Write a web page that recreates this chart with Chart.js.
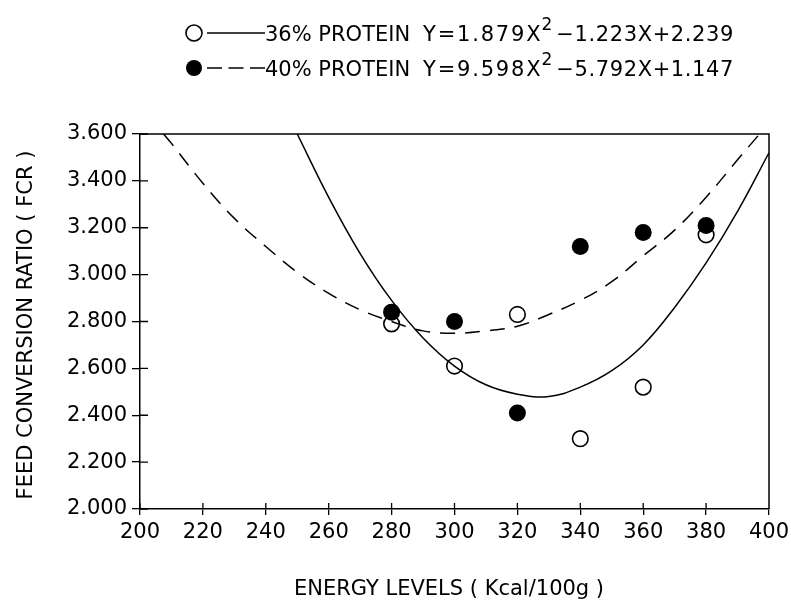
<!DOCTYPE html>
<html>
<head>
<meta charset="utf-8">
<script src="https://cdn.jsdelivr.net/npm/chart.js@4"></script>
<style>
  html, body { margin: 0; padding: 0; background: #fff; }
  canvas { display: block; }
</style>
</head>
<body>
<canvas id="c" width="791" height="603"></canvas>
<script>
// ---- data ----
const energy = [280, 300, 320, 340, 360, 380];
const fcr36 = [2.79, 2.61, 2.83, 2.30, 2.52, 3.17];
const fcr40 = [2.84, 2.80, 2.41, 3.12, 3.18, 3.21];

// fitted curves
const fit36X = [250, 260, 270, 280, 290, 300, 310, 320, 330, 340, 350, 360, 370, 380, 390, 400];
const fit36Y = [3.60, 3.33, 3.09, 2.89, 2.73, 2.61, 2.53, 2.49, 2.48, 2.52, 2.59, 2.70, 2.86, 3.05, 3.27, 3.52];
const fit40X = [207.5, 210, 220, 230, 240, 250, 260, 270, 280, 290, 300, 310, 320, 330, 340, 350, 360, 370, 380, 390, 397];
const fit40Y = [3.60, 3.56, 3.39, 3.24, 3.12, 3.01, 2.92, 2.85, 2.80, 2.76, 2.75, 2.76, 2.78, 2.83, 2.89, 2.97, 3.08, 3.19, 3.33, 3.49, 3.60];

const xTicks = [200, 220, 240, 260, 280, 300, 320, 340, 360, 380, 400];
const yTicks = [2.0, 2.2, 2.4, 2.6, 2.8, 3.0, 3.2, 3.4, 3.6];

const legendNames = ['36% PROTEIN', '40% PROTEIN'];
const legendEqA = ['Y=1.879X', 'Y=9.598X'];
const legendEqB = ['\u22121.223X+2.239', '\u22125.792X+1.147'];

const xTitle = 'ENERGY LEVELS ( Kcal/100g )';
const yTitle = 'FEED CONVERSION RATIO ( FCR )';

const FONT = '"DejaVu Sans", sans-serif';

const pts = (xs, ys) => xs.map((x, i) => ({ x: x, y: ys[i] }));

// draw text char by char with extra spacing; returns end x
function spaced(ctx, text, x, y, sp) {
  let cx = x;
  for (const ch of text) {
    ctx.fillText(ch, cx, y);
    cx += ctx.measureText(ch).width + sp;
  }
  return cx - sp;
}

const decor = {
  id: 'decor',
  afterDraw(chart) {
    const ctx = chart.ctx;
    const a = chart.chartArea;
    const xs = chart.scales.x, ys = chart.scales.y;
    ctx.save();
    ctx.strokeStyle = '#000';
    ctx.lineWidth = 1.5;
    // frame top & right
    ctx.beginPath();
    ctx.moveTo(a.left, a.top);
    ctx.lineTo(a.right, a.top);
    ctx.lineTo(a.right, a.bottom);
    ctx.stroke();
    // inner tick marks
    ctx.lineWidth = 1.3;
    ctx.beginPath();
    xTicks.forEach(v => {
      if (v === 400) return;
      const px = xs.getPixelForValue(v);
      ctx.moveTo(px, a.bottom);
      ctx.lineTo(px, a.bottom - 6);
    });
    yTicks.forEach(v => {
      const py = ys.getPixelForValue(v);
      ctx.moveTo(a.left, py);
      ctx.lineTo(a.left + 8, py);
    });
    ctx.stroke();

    // axis titles
    ctx.fillStyle = '#000';
    ctx.font = '21px ' + FONT;
    ctx.textAlign = 'center';
    ctx.textBaseline = 'alphabetic';
    ctx.fillText(xTitle, 449, 595);
    ctx.save();
    ctx.translate(32, 325);
    ctx.rotate(-Math.PI / 2);
    ctx.fillText(yTitle, 0, 0);
    ctx.restore();

    // legend
    const rows = [33, 68];
    rows.forEach((cy, i) => {
      ctx.beginPath();
      ctx.arc(194, cy, 8, 0, Math.PI * 2);
      if (i === 0) {
        ctx.lineWidth = 1.6;
        ctx.stroke();
      } else {
        ctx.fill();
      }
      ctx.lineWidth = 1.6;
      ctx.beginPath();
      ctx.setLineDash(i === 0 ? [] : [15, 6.5]);
      ctx.moveTo(207, cy);
      ctx.lineTo(265, cy);
      ctx.stroke();
      ctx.setLineDash([]);
      const base = cy + 8;
      ctx.textAlign = 'left';
      ctx.font = '21px ' + FONT;
      ctx.fillText(legendNames[i], 265, base);
      let ex = spaced(ctx, legendEqA[i], 423, base, 1.8);
      ctx.font = '17px ' + FONT;
      ctx.fillText('2', ex + 1, base - 11);
      ex = ex + 1 + ctx.measureText('2').width;
      ctx.font = '21px ' + FONT;
      spaced(ctx, legendEqB[i], ex + 4, base, 0.6);
    });
    ctx.restore();
  }
};

new Chart(document.getElementById('c'), {
  type: 'scatter',
  data: {
    datasets: [
      {
        label: legendNames[1],
        data: pts(energy, fcr40),
        pointRadius: 8.5,
        pointBorderWidth: 0,
        pointBackgroundColor: '#000',
        pointBorderColor: '#000',
        showLine: false,
        order: 0
      },
      {
        label: legendNames[0],
        data: pts(energy, fcr36),
        pointRadius: 7.8,
        pointBorderWidth: 1.6,
        pointBackgroundColor: 'rgba(0,0,0,0)',
        pointBorderColor: '#000',
        showLine: false,
        order: 1
      },
      {
        label: 'fit36',
        data: pts(fit36X, fit36Y),
        showLine: true,
        pointRadius: 0,
        borderColor: '#000',
        borderWidth: 1.5,
        tension: 0.4,
        fill: false,
        order: 2
      },
      {
        label: 'fit40',
        data: pts(fit40X, fit40Y),
        showLine: true,
        pointRadius: 0,
        borderColor: '#000',
        borderWidth: 1.5,
        borderDash: [15, 10],
        tension: 0.4,
        fill: false,
        order: 3
      }
    ]
  },
  options: {
    responsive: false,
    animation: false,
    devicePixelRatio: 1,
    layout: { padding: { left: 0, right: 22, top: 134, bottom: 0 } },
    plugins: {
      legend: { display: false },
      tooltip: { enabled: false },
      title: { display: false }
    },
    scales: {
      x: {
        type: 'linear',
        min: 200,
        max: 400,
        afterBuildTicks: s => { s.ticks = xTicks.map(v => ({ value: v })); },
        afterFit: s => { s.height = 94; s.paddingLeft = 0; s.paddingRight = 0; },
        grid: { drawOnChartArea: false, drawTicks: true, tickLength: 6, color: '#000', lineWidth: 1.3 },
        border: { display: true, color: '#000', width: 1.5 },
        ticks: {
          color: '#000',
          font: { family: FONT, size: 21 },
          padding: 5,
          maxRotation: 0,
          autoSkip: false,
          callback: v => String(v)
        }
      },
      y: {
        type: 'linear',
        min: 2.0,
        max: 3.6,
        afterBuildTicks: s => { s.ticks = yTicks.map(v => ({ value: v })); },
        afterFit: s => { s.width = 140; s.paddingTop = 0; s.paddingBottom = 0; },
        grid: { drawOnChartArea: false, drawTicks: true, tickLength: 8, color: '#000', lineWidth: 1.3 },
        border: { display: true, color: '#000', width: 1.5 },
        ticks: {
          color: '#000',
          font: { family: FONT, size: 21 },
          padding: 5,
          autoSkip: false,
          callback: v => Number(v).toFixed(3)
        }
      }
    }
  },
  plugins: [decor]
});
</script>
</body>
</html>
